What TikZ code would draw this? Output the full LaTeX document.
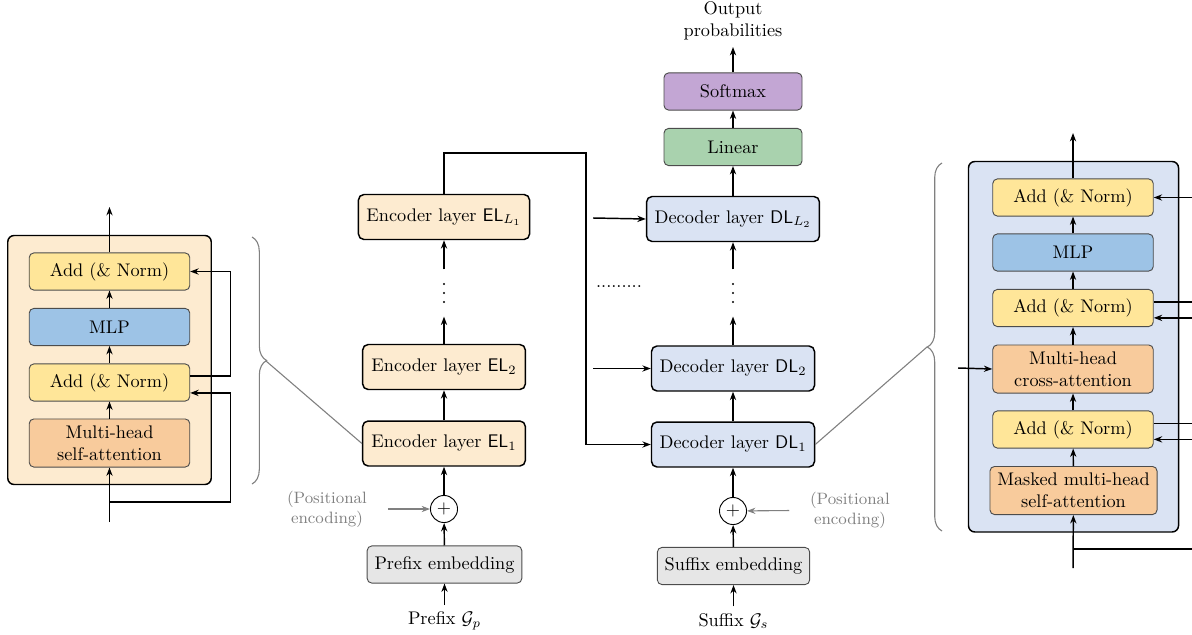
\documentclass[tikz,border=0pt]{standalone}
\usepackage{amsmath}
\usetikzlibrary{arrows.meta,decorations.pathreplacing,fit,backgrounds}

\definecolor{encfill}{RGB}{253,235,208}
\definecolor{decfill}{RGB}{218,227,243}
\definecolor{addfill}{RGB}{255,230,153}
\definecolor{mlpfill}{RGB}{157,195,230}
\definecolor{attnfill}{RGB}{248,203,156}
\definecolor{linfill}{RGB}{169,210,174}
\definecolor{softfill}{RGB}{195,166,212}
\definecolor{embfill}{RGB}{230,230,230}

\begin{document}
\begin{tikzpicture}[x=0.547pt,y=-0.547pt,>={Stealth[length=4.6pt,width=3.4pt]},thick,
    blk/.style={draw,thick,rounded corners=3pt,inner xsep=4.4pt,minimum width=89pt,minimum height=24.6pt},
    sub/.style={draw=black!70,line width=0.5pt,rounded corners=2.5pt,inner xsep=4pt,inner ysep=2pt,
      minimum width=87.8pt,minimum height=20.3pt,align=center},
    panel/.style={draw,thick,rounded corners=3.5pt,inner xsep=11.5pt,inner ysep=9.3pt},
    gline/.style={draw=gray,line width=0.6pt},
    brc/.style={gline,decorate,decoration={brace,amplitude=8pt}},
    oplus/.style={draw,circle,line width=0.5pt,inner sep=0pt,minimum size=14.8pt},
    gap/.style={inner sep=0pt,minimum height=25pt,minimum width=4pt},
    posenc/.style={text=gray,font=\small,align=center}]
  \clip (0,0) rectangle (1192,634);

  % left: inside of an encoder layer
  \node[sub,fill=attnfill,minimum height=26.3pt] (lattn) at (109.5,443) {Multi-head\\self-attention};
  \node[sub,fill=addfill] (ladd1) at (109.5,382.5) {Add (\& Norm)};
  \node[sub,fill=mlpfill] (lmlp) at (109.5,327) {MLP};
  \node[sub,fill=addfill] (ladd2) at (109.5,271.5) {Add (\& Norm)};
  \begin{scope}[on background layer]
    \node[panel,fill=encfill,fit=(ladd2)(lattn)] (lpanel) {};
  \end{scope}
  \coordinate (lin) at (109.5,522);
  \coordinate (lsplit) at (109.5,502);
  \coordinate (lout) at (109.5,207);
  \draw[->] (lin) -- (lattn);
  \draw[->] (lattn) -- (ladd1);
  \draw[->] (ladd1) -- (lmlp);
  \draw[->] (lmlp) -- (ladd2);
  \draw[->] (ladd2) -- (lout);
  \draw[->] (lsplit) -| ([xshift=21.9pt,yshift=-5.7pt]ladd1.east) -- ([yshift=-5.7pt]ladd1.east);
  \draw[->] ([yshift=3.6pt]ladd1.east) -| ([xshift=21.9pt]ladd2.east) -- (ladd2.east);
  \draw[brc] (252,237) -- (252,484);
  \coordinate (lbtip) at (266,361);

  % encoder stack
  \node[blk,fill=encfill] (el1) at (444,443.5) {Encoder layer $\mathsf{EL}_1$};
  \node[blk,fill=encfill] (el2) at (444,367) {Encoder layer $\mathsf{EL}_2$};
  \node[gap] (edots) at (444,293) {};
  \node[blk,fill=encfill] (ell) at (444,217) {Encoder layer $\mathsf{EL}_{L_1}$};
  \node[oplus] (eplus) at (444,509) {$+$};
  \node[sub,fill=embfill,minimum width=0pt] (pemb) at (444.5,564.5) {Prefix embedding};
  \node (pin) at (444.5,621) {Prefix $\mathcal{G}_p$};
  \node[posenc] (epos) at (327,509) {(Positional\\encoding)};
  \draw[->] (pin) -- (pemb);
  \draw[->] (pemb) -- (eplus);
  \draw[->] (eplus) -- (el1);
  \draw[->] (el1) -- (el2);
  \draw[->] (el2) -- (edots);
  \draw[->] (edots) -- (ell);
  \draw[gline,->,shorten <=7.7pt] (epos) -- (eplus);
  \draw[gline] (lbtip) -- (el1.west);

  % encoder output into the decoders
  \coordinate (bend) at (586,153);
  \coordinate (din2) at (593,368.5);
  \coordinate (dinl) at (593,218);
  \node[inner sep=0pt] (hdots) at (619,287) {.........};

  % decoder stack
  \node[blk,fill=decfill] (dl1) at (733,444.5) {Decoder layer $\mathsf{DL}_1$};
  \node[blk,fill=decfill] (dl2) at (733,368.5) {Decoder layer $\mathsf{DL}_2$};
  \node[gap] (ddots) at (733,293) {};
  \node[blk,fill=decfill] (dll) at (733,219) {Decoder layer $\mathsf{DL}_{L_2}$};
  \node[sub,fill=linfill,minimum width=75.5pt] (lin1) at (733,147) {Linear};
  \node[sub,fill=softfill,minimum width=75.5pt] (smax) at (733,91.5) {Softmax};
  \node[align=center] (outp) at (733,21) {Output\\probabilities};
  \node[oplus] (splus) at (733,511) {$+$};
  \node[sub,fill=embfill,minimum width=0pt] (semb) at (733.5,566) {Suffix embedding};
  \node (sin) at (733.5,621) {Suffix $\mathcal{G}_s$};
  \node[posenc] (spos) at (850,510) {(Positional\\encoding)};
  \draw[->] (sin) -- (semb);
  \draw[->] (semb) -- (splus);
  \draw[->] (splus) -- (dl1);
  \draw[->] (dl1) -- (dl2);
  \draw[->] (dl2) -- (ddots);
  \draw[->] (ddots) -- (dll);
  \draw[->] (dll) -- (lin1);
  \draw[->] (lin1) -- (smax);
  \draw[->] (smax) -- (outp);
  \draw[gline,->,shorten <=7.7pt] (spos) -- (splus);
  \draw[->] (ell.north) |- (bend) |- (dl1.west);
  \draw[->] (din2) -- (dl2.west);
  \draw[->] (dinl) -- (dll.west);

  % vertical dots between the layers
  \foreach \n in {edots,ddots}{
    \foreach \d in {-9,0,9}
      \fill[transform canvas={shift=(\n)}] (0,\d) circle [radius=0.65pt];
  }

  % right: inside of a decoder layer
  \node[sub,fill=attnfill,minimum height=26.3pt] (rmask) at (1073.5,490.5) {Masked multi-head\\self-attention};
  \node[sub,fill=addfill] (radd1) at (1073,429.5) {Add (\& Norm)};
  \node[sub,fill=attnfill,minimum height=26.3pt] (rcross) at (1073,369) {Multi-head\\cross-attention};
  \node[sub,fill=addfill] (radd2) at (1073,308) {Add (\& Norm)};
  \node[sub,fill=mlpfill] (rmlp) at (1073,252.5) {MLP};
  \node[sub,fill=addfill] (radd3) at (1073,197.5) {Add (\& Norm)};
  \begin{scope}[on background layer]
    \node[panel,fill=decfill,fit=(radd3)(rmask)] (rpanel) {};
  \end{scope}
  \coordinate (rin) at (1073,568);
  \coordinate (rsplit) at (1073,549);
  \coordinate (rout) at (1073,133);
  \coordinate (rxin) at (958,368);
  \draw[->] (rin) -- (rmask);
  \draw[->] (rmask) -- (radd1);
  \draw[->] (radd1) -- (rcross);
  \draw[->] (rcross) -- (radd2);
  \draw[->] (radd2) -- (rmlp);
  \draw[->] (rmlp) -- (radd3);
  \draw[->] (radd3) -- (rout);
  \draw[->] (rxin) -- (rcross.west);
  \draw (rsplit) -- ++(140,0);
  \draw[<-] (radd3.east) -- ++(60,0);
  \foreach \n in {radd1,radd2}{
    \draw ([yshift=3.2pt]\n.east) -- ++(60,0);
    \draw[<-] ([yshift=-5.4pt]\n.east) -- ++(60,0);
  }
  \draw[brc] (942,531) -- (942,163);
  \coordinate (rbtip) at (927,347);
  \draw[gline] (dl1.east) -- (rbtip);
\end{tikzpicture}
\end{document}
